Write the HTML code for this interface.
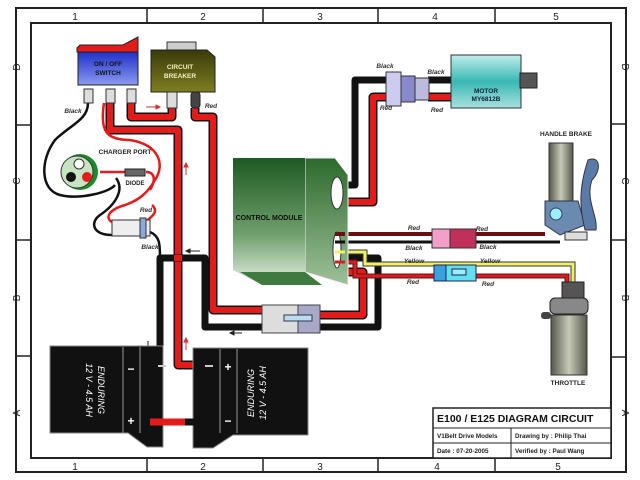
<!DOCTYPE html>
<html><head><style>
html,body{margin:0;padding:0;background:#fff;width:640px;height:480px;overflow:hidden}
svg{display:block}
text{font-family:"Liberation Sans",sans-serif}
</style></head><body>
<svg width="640" height="480" viewBox="0 0 640 480" xmlns="http://www.w3.org/2000/svg">
<defs>
<linearGradient id="cm" x1="0" y1="0" x2="0" y2="1"><stop offset="0" stop-color="#1f5a22"/><stop offset="0.6" stop-color="#6f9f6c"/><stop offset="1" stop-color="#e6efe3"/></linearGradient>
<linearGradient id="cm2" x1="0" y1="0" x2="0" y2="1"><stop offset="0" stop-color="#2c6a2c"/><stop offset="1" stop-color="#9fc09a"/></linearGradient>
<linearGradient id="mot" x1="0" y1="0" x2="0" y2="1"><stop offset="0" stop-color="#bfecea"/><stop offset="0.5" stop-color="#38b8b4"/><stop offset="1" stop-color="#a8e0de"/></linearGradient>
<linearGradient id="sw" x1="0" y1="0" x2="0" y2="1"><stop offset="0" stop-color="#2030c8"/><stop offset="1" stop-color="#8a9af0"/></linearGradient>
<linearGradient id="cb" x1="0" y1="0" x2="0" y2="1"><stop offset="0" stop-color="#3a3a08"/><stop offset="1" stop-color="#7e7e22"/></linearGradient>
<linearGradient id="grip" x1="0" y1="0" x2="1" y2="0"><stop offset="0" stop-color="#55584a"/><stop offset="0.5" stop-color="#c8cab8"/><stop offset="1" stop-color="#55584a"/></linearGradient>
</defs>
<!-- frame -->
<rect x="16" y="8" width="610" height="464" fill="none" stroke="#222" stroke-width="2"/>
<rect x="31" y="23" width="580" height="435" fill="none" stroke="#222" stroke-width="2"/>
<g stroke="#222" stroke-width="1.5">
<line x1="147" y1="8" x2="147" y2="23"/><line x1="263" y1="8" x2="263" y2="23"/><line x1="378" y1="8" x2="378" y2="23"/><line x1="495" y1="8" x2="495" y2="23"/>
<line x1="147" y1="458" x2="147" y2="472"/><line x1="263" y1="458" x2="263" y2="472"/><line x1="378" y1="458" x2="378" y2="472"/><line x1="495" y1="458" x2="495" y2="472"/>
<line x1="16" y1="125" x2="31" y2="125"/><line x1="16" y1="240" x2="31" y2="240"/><line x1="16" y1="356" x2="31" y2="356"/>
<line x1="611" y1="124" x2="626" y2="124"/><line x1="611" y1="240" x2="626" y2="240"/><line x1="611" y1="357" x2="626" y2="357"/>
</g>
<g font-size="10" fill="#222" text-anchor="middle">
<text x="75" y="20">1</text><text x="203" y="20">2</text><text x="320" y="20">3</text><text x="435" y="20">4</text><text x="556" y="20">5</text>
<text x="75" y="470">1</text><text x="203" y="470">2</text><text x="320" y="470">3</text><text x="437" y="470">4</text><text x="558" y="470">5</text>
<text transform="translate(20,67) rotate(-90)">D</text><text transform="translate(20,181) rotate(-90)">C</text><text transform="translate(20,298) rotate(-90)">B</text><text transform="translate(20,413) rotate(-90)">A</text>
<text transform="translate(622,67) rotate(90)">D</text><text transform="translate(622,181) rotate(90)">C</text><text transform="translate(622,298) rotate(90)">B</text><text transform="translate(622,413) rotate(90)">A</text>
</g>
<!-- black wires -->
<g fill="none" stroke="#111" stroke-width="7" stroke-linejoin="round">
<path d="M160 365 V258 H165"/>
<path d="M185 258 H205 V327 H265"/>
<path d="M320 327 H378 V258 H335"/>
<path d="M335 185 H355 V80 H388"/>
<path d="M428 80 H452"/>
</g>
<g fill="none" stroke="#111" stroke-width="2.5">
<path d="M88 103 C88 120 70 125 55 140 C40 160 40 190 60 195 C80 200 110 192 115 185"/>
<path d="M116 178 C125 190 115 205 100 215 C90 222 92 235 112 235"/>
<path d="M150 232 C160 236 160 245 160 258"/>
</g>
<!-- red wires -->
<g fill="none" stroke="#111" stroke-width="9" stroke-linejoin="round">
<path d="M131 103 V117 H172 V108"/>
<path d="M110 103 V130 H178 V365 H213"/>
<path d="M195 108 V117 H213 V310 H265"/>
<path d="M320 315 H363 V272 H335"/>
<path d="M335 202 H373 V97 H388"/>
<path d="M428 97 H452"/>
</g>
<g fill="none" stroke="#e31b1b" stroke-width="6" stroke-linejoin="round">
<path d="M131 103 V117 H172 V108"/>
<path d="M110 103 V130 H178 V365 H213"/>
<path d="M195 108 V117 H213 V310 H265"/>
<path d="M320 315 H363 V272 H335"/>
<path d="M335 202 H373 V97 H388"/>
<path d="M428 97 H452"/>
</g>
<g fill="none" stroke="#e31b1b" stroke-width="2.5">
<path d="M104 103 C100 130 105 140 130 140 C160 145 165 165 155 180 C148 192 140 200 125 205 C108 210 105 218 112 222"/>
<path d="M100 172 H128 M146 172 C155 172 156 180 150 190"/>
<path d="M145 222 C155 215 158 210 152 205"/>
</g>
<path d="M165 258 H185" stroke="#111" stroke-width="7"/>
<path d="M174 258 H182" stroke="#e31b1b" stroke-width="6"/>
<!-- thin harness -->
<g fill="none">
<path d="M335 234 H545" stroke="#6b0f12" stroke-width="4"/>
<path d="M335 242 H560" stroke="#111" stroke-width="3"/>
<path d="M335 252 H365 V264 H573 V285" stroke="#333" stroke-width="5"/>
<path d="M335 252 H365 V264 H573 V285" stroke="#f0f060" stroke-width="3"/>
<path d="M335 262 H355 V276 H567 V285" stroke="#6b0f12" stroke-width="5"/>
<path d="M335 262 H355 V276 H567 V285" stroke="#d02020" stroke-width="3"/>
</g>
<!-- switch -->
<path d="M77 48 L80 45 L123 45 L138 37 L138 52 L77 52 Z" fill="#e31b1b" stroke="#222"/>
<rect x="78" y="52" width="60" height="33" fill="url(#sw)" stroke="#222"/>
<text x="108" y="66" font-size="6.5" font-weight="bold" fill="#111" text-anchor="middle">ON / OFF</text>
<text x="108" y="75" font-size="6.5" font-weight="bold" fill="#111" text-anchor="middle">SWITCH</text>
<g fill="#ddd" stroke="#333"><rect x="84" y="89" width="9" height="14"/><rect x="106" y="89" width="9" height="14"/><rect x="127" y="89" width="9" height="14"/></g>
<!-- breaker -->
<rect x="167" y="42" width="29" height="8" fill="#ccc" stroke="#333"/>
<path d="M151 50 H207 L215 57 V92 H151 Z" fill="url(#cb)" stroke="#222"/>
<text x="180" y="69" font-size="6.5" font-weight="bold" fill="#f0f0c0" text-anchor="middle">CIRCUIT</text>
<text x="180" y="78" font-size="6.5" font-weight="bold" fill="#f0f0c0" text-anchor="middle">BREAKER</text>
<rect x="167" y="92" width="10" height="16" fill="#ddd" stroke="#333"/>
<rect x="191" y="92" width="9" height="16" rx="3" fill="#444" stroke="#222"/>
<!-- charger port -->
<circle cx="80" cy="172" r="18" fill="#1a8a2a"/><circle cx="77" cy="172" r="16" fill="#c6e3c2" stroke="#333"/>
<circle cx="79" cy="164" r="5" fill="#fff" stroke="#333"/><circle cx="71" cy="177" r="5" fill="#111"/><circle cx="87" cy="177" r="5" fill="#e31b1b"/>
<text x="125" y="154" font-size="6.5" font-weight="bold" fill="#222" text-anchor="middle">CHARGER PORT</text>
<rect x="125" y="169" width="20" height="7" fill="#666" stroke="#222"/>
<text x="135" y="185" font-size="6" font-weight="bold" fill="#222" text-anchor="middle">DIODE</text>
<rect x="112" y="220" width="38" height="16" fill="#eee" stroke="#333"/><rect x="140" y="218" width="6" height="20" fill="#8ad" stroke="#333"/>
<!-- control module -->
<path d="M305 158 L335 158 L348 175 L348 285 L305 272 Z" fill="url(#cm2)" stroke="#eee"/>
<path d="M233 158 H305 V272 L322 285 H262 L233 270 Z" fill="url(#cm)"/>
<path d="M262 285 H322 L305 272 H240 Z" fill="#3f7a40"/>
<text x="269" y="220" font-size="7" font-weight="bold" fill="#111" text-anchor="middle">CONTROL MODULE</text>
<ellipse cx="337" cy="193" rx="6" ry="16" fill="#fff" stroke="#333"/>
<ellipse cx="337" cy="250" rx="4" ry="18" fill="#fff" stroke="#333"/>
<g fill="none">
<path d="M335 234 H345" stroke="#6b0f12" stroke-width="4"/>
<path d="M335 242 H345" stroke="#111" stroke-width="3"/>
<path d="M335 252 H345" stroke="#f0f060" stroke-width="3"/>
<path d="M335 262 H345" stroke="#d02020" stroke-width="3"/>
</g>
<!-- connector bottom -->
<rect x="262" y="305" width="58" height="28" fill="#ddd" stroke="#444"/><rect x="298" y="305" width="22" height="28" fill="#a8a8c8" stroke="#444"/>
<rect x="284" y="315" width="28" height="6" fill="#bde" stroke="#335"/>
<!-- motor -->
<rect x="386" y="72" width="15" height="34" fill="#cce" stroke="#333"/><rect x="401" y="76" width="14" height="26" fill="#88c" stroke="#333"/><rect x="415" y="78" width="14" height="22" fill="#bbd" stroke="#333"/>
<rect x="451" y="55" width="70" height="53" fill="url(#mot)" stroke="#333"/>
<rect x="520" y="73" width="17" height="15" fill="#555" stroke="#222"/>
<text x="486" y="93" font-size="6.5" font-weight="bold" fill="#123" text-anchor="middle">MOTOR</text>
<text x="486" y="101" font-size="6.5" font-weight="bold" fill="#123" text-anchor="middle">MY6812B</text>
<!-- brake -->
<text x="566" y="136" font-size="6.5" font-weight="bold" fill="#222" text-anchor="middle">HANDLE BRAKE</text>
<rect x="549" y="143" width="24" height="58" fill="url(#grip)" stroke="#333"/>
<path d="M545 201 H578 L585 225 L560 235 L545 225 Z" fill="#6a8ab0" stroke="#334"/>
<circle cx="556" cy="214" r="6" fill="#9ef" stroke="#345"/>
<path d="M588 160 C600 155 602 170 592 180 C585 200 598 215 596 230 L585 230 C580 210 578 190 588 160 Z" fill="#5a7aa8" stroke="#334"/>
<rect x="565" y="232" width="22" height="8" fill="#ddd" stroke="#333"/>
<!-- harness connectors -->
<rect x="432" y="229" width="18" height="19" fill="#f2a0c8" stroke="#333"/><rect x="450" y="229" width="26" height="19" fill="#c0305a" stroke="#333"/>
<rect x="434" y="265" width="12" height="16" fill="#3aa0e0" stroke="#225"/><rect x="446" y="265" width="30" height="16" fill="#60e0f0" stroke="#225"/><rect x="452" y="269" width="14" height="6" fill="#9ef" stroke="#225"/>
<!-- throttle -->
<rect x="562" y="282" width="22" height="18" fill="#555" stroke="#222"/>
<rect x="550" y="298" width="38" height="16" rx="5" fill="#888" stroke="#222"/>
<rect x="541" y="312" width="10" height="7" rx="3" fill="#444"/>
<rect x="551" y="315" width="36" height="60" fill="url(#grip)" stroke="#333"/>
<text x="568" y="385" font-size="6.5" font-weight="bold" fill="#222" text-anchor="middle">THROTTLE</text>
<!-- labels -->
<g font-size="6.5" font-style="italic" font-weight="bold" fill="#333" text-anchor="middle">
<text x="73" y="113">Black</text><text x="211" y="108">Red</text><text x="146" y="212">Red</text><text x="150" y="249">Black</text>
<text x="385" y="68">Black</text><text x="436" y="74">Black</text><text x="386" y="110">Red</text><text x="437" y="112">Red</text>
<text x="414" y="230">Red</text><text x="482" y="231">Red</text><text x="414" y="250">Black</text><text x="488" y="249">Black</text>
<text x="414" y="263">Yellow</text><text x="490" y="263">Yellow</text><text x="413" y="284">Red</text><text x="488" y="286">Red</text>
</g>
<g stroke="#c33" stroke-width="1" fill="#c33"><path d="M146 107 H158"/><path d="M160 107 l-4 -2 v4z"/><path d="M186 175 V165"/><path d="M186 163 l-2 4 h4z"/><path d="M186 350 V340"/><path d="M186 338 l-2 4 h4z"/></g>
<g stroke="#222" stroke-width="1" fill="#222"><path d="M188 251 H200"/><path d="M186 251 l4 -2 v4z"/><path d="M232 333 H242"/><path d="M230 333 l4 -2 v4z"/><path d="M148 341 V350"/><path d="M148 352 l-2 -4 h4z"/></g>
<!-- batteries -->
<path d="M50 346 H163 V447 H147 L128 433 H50 Z" fill="#111" stroke="#888"/>
<line x1="123" y1="347" x2="123" y2="433" stroke="#999"/><line x1="140" y1="347" x2="140" y2="433" stroke="#999"/>
<text transform="translate(98,390) rotate(90)" font-size="9" font-style="italic" fill="#fff" text-anchor="middle">ENDURING</text>
<text transform="translate(86,390) rotate(90)" font-size="9" font-style="italic" fill="#fff" text-anchor="middle">12 V - 4.5 AH</text>
<text x="131" y="373" font-size="12" font-weight="bold" fill="#fff" text-anchor="middle">−</text>
<text x="131" y="425" font-size="12" font-weight="bold" fill="#fff" text-anchor="middle">+</text>
<path d="M193 348 H308 V435 H233 L213 448 H193 Z" fill="#111" stroke="#888"/>
<line x1="220" y1="349" x2="220" y2="433" stroke="#999"/><line x1="237" y1="349" x2="237" y2="433" stroke="#999"/>
<text transform="translate(254,393) rotate(-90)" font-size="9" font-style="italic" fill="#fff" text-anchor="middle">ENDURING</text>
<text transform="translate(266,393) rotate(-90)" font-size="9" font-style="italic" fill="#fff" text-anchor="middle">12 V - 4.5 AH</text>
<text x="228" y="371" font-size="12" font-weight="bold" fill="#fff" text-anchor="middle">+</text>
<text x="228" y="425" font-size="12" font-weight="bold" fill="#fff" text-anchor="middle">−</text>
<path d="M150 422 H185" stroke="#e31b1b" stroke-width="7"/><path d="M185 422 H195" stroke="#111" stroke-width="7"/>
<path d="M158 366 H166 M205 366 H213" stroke="#ccc" stroke-width="2"/>
<!-- title block -->
<rect x="433" y="408" width="178" height="50" fill="#fff" stroke="#222" stroke-width="1.5"/>
<line x1="433" y1="428" x2="611" y2="428" stroke="#222"/><line x1="433" y1="443" x2="611" y2="443" stroke="#222"/><line x1="511" y1="428" x2="511" y2="458" stroke="#222"/>
<text x="437" y="422" font-size="10.5" font-weight="bold" fill="#111">E100 / E125 DIAGRAM CIRCUIT</text>
<g font-size="6.3" font-weight="bold" fill="#222"><text x="437" y="438">V1Belt Drive Models</text><text x="515" y="438">Drawing by : Philip Thai</text><text x="437" y="453">Date : 07-20-2005</text><text x="515" y="453">Verified by : Paul Wang</text></g>
</svg>
</body></html>
